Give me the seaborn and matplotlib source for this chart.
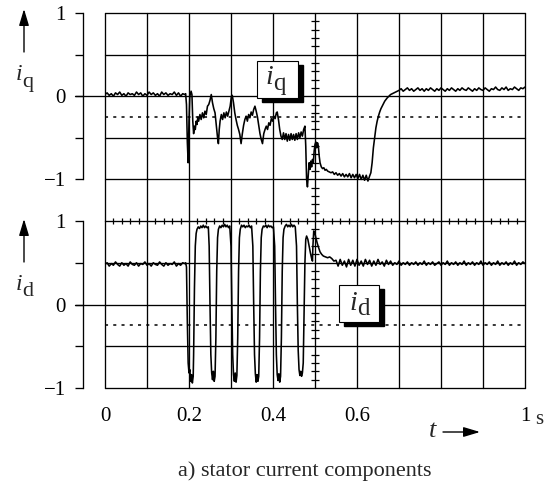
import numpy as np
import pandas as pd
import matplotlib
matplotlib.use("Agg")
import matplotlib.pyplot as plt
import seaborn as sns
from matplotlib.patches import Rectangle, FancyArrowPatch
from matplotlib.transforms import blended_transform_factory

# ---------------- data ----------------
# i_q : quiet section 0 .. 0.19 s
iq_flat_start = [0.02, 0.04, 0.01, 0.03, 0.00, 0.04, 0.02, 0.05, 0.01, 0.03,
                 0.00, 0.04, 0.02, 0.03, 0.01, 0.05, 0.02, 0.04, 0.00, 0.03,
                 0.01, 0.05, 0.02, 0.04, 0.01, 0.03, 0.00, 0.05, 0.02, 0.04,
                 0.01, 0.03, 0.02, 0.05, 0.01, 0.04, 0.00, 0.03, 0.02]
# i_q : transient section (t, value)
iq_events = [(0.192, 0.03), (0.194, -0.10), (0.196, -0.55), (0.198, -0.80), (0.200, -0.30),
             (0.202, 0.00), (0.205, 0.06), (0.207, 0.02), (0.209, -0.30), (0.211, -0.45),
             (0.213, -0.36), (0.215, -0.40), (0.217, -0.30), (0.219, -0.34), (0.221, -0.25),
             (0.223, -0.30), (0.226, -0.22), (0.229, -0.28), (0.232, -0.20), (0.235, -0.26),
             (0.238, -0.18), (0.241, -0.22), (0.244, -0.12), (0.247, -0.10), (0.250, -0.05),
             (0.253, 0.02), (0.256, -0.08), (0.259, -0.15), (0.262, -0.20), (0.265, -0.35),
             (0.268, -0.50), (0.270, -0.57), (0.272, -0.40), (0.274, -0.30), (0.277, -0.22),
             (0.280, -0.28), (0.283, -0.20), (0.286, -0.26), (0.289, -0.19), (0.292, -0.24),
             (0.295, -0.18), (0.298, -0.12), (0.301, 0.00), (0.303, 0.01), (0.306, -0.08),
             (0.309, -0.20), (0.312, -0.28), (0.315, -0.35), (0.318, -0.40), (0.321, -0.46),
             (0.324, -0.57), (0.327, -0.45), (0.330, -0.35), (0.333, -0.28), (0.336, -0.24),
             (0.339, -0.30), (0.342, -0.22), (0.345, -0.26), (0.348, -0.19), (0.351, -0.23),
             (0.354, -0.16), (0.357, -0.12), (0.360, -0.18), (0.363, -0.25), (0.366, -0.35),
             (0.369, -0.45), (0.372, -0.52), (0.375, -0.57), (0.378, -0.45), (0.381, -0.40),
             (0.384, -0.36), (0.387, -0.40), (0.390, -0.32), (0.393, -0.35), (0.396, -0.27),
             (0.399, -0.30), (0.402, -0.24), (0.405, -0.27), (0.408, -0.20), (0.410, -0.19),
             (0.413, -0.28), (0.416, -0.40), (0.419, -0.48), (0.422, -0.52), (0.425, -0.44),
             (0.428, -0.52), (0.431, -0.45), (0.434, -0.54), (0.437, -0.46), (0.440, -0.53),
             (0.443, -0.45), (0.446, -0.52), (0.449, -0.46), (0.452, -0.53), (0.455, -0.45),
             (0.458, -0.52), (0.461, -0.44), (0.464, -0.50), (0.467, -0.43), (0.470, -0.48),
             (0.473, -0.40), (0.476, -0.36), (0.478, -0.60), (0.480, -1.00), (0.482, -1.09),
             (0.484, -0.95), (0.486, -0.80), (0.488, -0.88), (0.490, -0.78), (0.492, -0.85),
             (0.494, -0.76), (0.496, -0.80), (0.498, -0.66), (0.500, -0.58), (0.502, -0.55),
             (0.504, -0.62), (0.506, -0.56), (0.508, -0.60), (0.510, -0.72), (0.512, -0.80),
             (0.515, -0.85), (0.518, -0.87), (0.521, -0.86), (0.524, -0.89), (0.527, -0.88),
             (0.530, -0.90), (0.534, -0.91), (0.538, -0.92), (0.542, -0.91), (0.546, -0.94),
             (0.550, -0.92), (0.554, -0.95), (0.558, -0.93), (0.562, -0.96), (0.566, -0.93),
             (0.570, -0.97), (0.574, -0.94), (0.578, -0.97), (0.582, -0.93), (0.586, -0.98),
             (0.590, -0.94), (0.594, -0.98), (0.598, -0.94), (0.602, -0.99), (0.606, -0.94),
             (0.610, -1.00), (0.614, -0.95), (0.618, -1.01), (0.622, -0.95), (0.626, -1.02),
             (0.630, -0.96), (0.633, -0.92), (0.636, -0.80), (0.639, -0.62), (0.642, -0.50),
             (0.645, -0.38), (0.648, -0.30), (0.651, -0.24), (0.654, -0.19), (0.657, -0.15),
             (0.660, -0.12), (0.663, -0.09), (0.666, -0.06), (0.669, -0.04), (0.672, -0.02),
             (0.676, 0.00), (0.680, 0.02), (0.684, 0.03), (0.688, 0.04), (0.692, 0.05),
             (0.696, 0.06)]
# i_q : steady section 0.70 .. 1.0 s
iq_flat_end = [0.07, 0.09, 0.06, 0.08, 0.10, 0.07, 0.09, 0.06, 0.08, 0.10,
               0.07, 0.09, 0.06, 0.09, 0.07, 0.10, 0.08, 0.06, 0.09, 0.07,
               0.10, 0.08, 0.06, 0.09, 0.07, 0.10, 0.08, 0.06, 0.09, 0.07,
               0.10, 0.08, 0.07, 0.10, 0.08, 0.06, 0.09, 0.07, 0.10, 0.08,
               0.07, 0.10, 0.08, 0.06, 0.09, 0.08, 0.11, 0.08, 0.07, 0.10,
               0.08, 0.11, 0.07, 0.09, 0.08, 0.11, 0.09, 0.07, 0.10, 0.09,
               0.11]

# i_d : quiet section 0 .. 0.19 s
id_flat_start = [0.48, 0.50, 0.46, 0.49, 0.47, 0.51, 0.48, 0.46, 0.50, 0.47,
                 0.49, 0.46, 0.51, 0.48, 0.47, 0.50, 0.46, 0.49, 0.48, 0.51,
                 0.47, 0.49, 0.46, 0.50, 0.48, 0.47, 0.51, 0.48, 0.46, 0.50,
                 0.47, 0.49, 0.48, 0.51, 0.46, 0.49, 0.47, 0.50, 0.49]
# i_d : pulse section (t, value)
id_events = [(0.192, 0.50), (0.194, 0.45), (0.196, -0.20), (0.198, -0.70), (0.200, -0.82),
             (0.202, -0.78), (0.204, -0.92), (0.206, -0.84), (0.208, -0.94), (0.210, -0.86),
             (0.211, -0.60), (0.213, 0.20), (0.215, 0.70), (0.217, 0.85), (0.219, 0.90),
             (0.222, 0.93), (0.225, 0.91), (0.228, 0.94), (0.231, 0.92), (0.234, 0.95),
             (0.237, 0.92), (0.240, 0.94), (0.243, 0.92), (0.246, 0.93),
             (0.248, 0.70), (0.250, 0.00), (0.252, -0.60), (0.254, -0.82), (0.256, -0.90),
             (0.258, -0.80), (0.260, -0.92), (0.262, -0.86), (0.264, -0.40), (0.266, 0.40),
             (0.268, 0.80), (0.270, 0.90),
             (0.273, 0.94), (0.276, 0.92), (0.279, 0.95), (0.282, 0.93), (0.285, 0.96),
             (0.288, 0.93), (0.291, 0.95), (0.294, 0.92), (0.297, 0.94),
             (0.300, 0.70), (0.302, 0.00), (0.304, -0.60), (0.306, -0.84), (0.308, -0.92),
             (0.310, -0.82), (0.312, -0.93), (0.314, -0.85), (0.316, -0.40), (0.318, 0.40),
             (0.320, 0.80), (0.322, 0.90),
             (0.325, 0.95), (0.328, 0.93), (0.331, 0.95), (0.334, 0.92), (0.337, 0.94),
             (0.340, 0.93), (0.343, 0.95), (0.346, 0.92), (0.349, 0.94),
             (0.352, 0.70), (0.354, 0.00), (0.356, -0.60), (0.358, -0.83), (0.360, -0.93),
             (0.362, -0.84), (0.364, -0.92), (0.366, -0.86), (0.368, -0.40), (0.370, 0.40),
             (0.372, 0.80), (0.374, 0.90),
             (0.377, 0.94), (0.380, 0.93), (0.383, 0.95), (0.386, 0.92), (0.389, 0.95),
             (0.392, 0.93), (0.395, 0.94), (0.398, 0.92), (0.401, 0.93),
             (0.404, 0.70), (0.406, 0.00), (0.408, -0.60), (0.410, -0.84), (0.412, -0.91),
             (0.414, -0.83), (0.416, -0.93), (0.418, -0.86), (0.420, -0.40), (0.422, 0.40),
             (0.424, 0.80), (0.426, 0.90),
             (0.429, 0.94), (0.432, 0.96), (0.435, 0.93), (0.438, 0.95), (0.441, 0.93),
             (0.444, 0.96), (0.447, 0.93), (0.450, 0.95), (0.453, 0.93),
             (0.456, 0.70), (0.458, 0.00), (0.460, -0.55), (0.462, -0.78), (0.464, -0.85),
             (0.466, -0.80), (0.468, -0.86), (0.470, -0.82), (0.472, -0.70), (0.474, -0.10),
             (0.476, 0.50), (0.478, 0.78), (0.480, 0.82),
             (0.483, 0.78), (0.486, 0.70), (0.489, 0.62), (0.492, 0.55), (0.494, 0.52),
             (0.495, 0.70), (0.497, 0.88), (0.499, 0.87), (0.502, 0.80), (0.505, 0.74),
             (0.508, 0.69), (0.512, 0.63), (0.516, 0.60), (0.520, 0.58), (0.525, 0.57),
             (0.530, 0.56), (0.535, 0.57), (0.540, 0.55), (0.545, 0.52)]
# i_d : steady section 0.55 .. 1.0 s
id_flat_end = [0.53, 0.46, 0.54, 0.47, 0.52, 0.45, 0.54, 0.47, 0.53, 0.46,
               0.54, 0.47, 0.52, 0.46, 0.54, 0.48, 0.53, 0.46, 0.52, 0.47,
               0.54, 0.48, 0.51, 0.46, 0.53, 0.48, 0.52, 0.47, 0.50, 0.48,
               0.52, 0.47, 0.50, 0.48, 0.51, 0.47, 0.50, 0.48, 0.51, 0.47,
               0.50, 0.48, 0.52, 0.47, 0.50, 0.48, 0.51, 0.47, 0.49, 0.51,
               0.47, 0.50, 0.48, 0.52, 0.47, 0.50, 0.48, 0.51, 0.47, 0.50,
               0.48, 0.52, 0.47, 0.50, 0.48, 0.51, 0.47, 0.50, 0.48, 0.52,
               0.47, 0.50, 0.48, 0.51, 0.47, 0.50, 0.48, 0.52, 0.47, 0.50,
               0.48, 0.51, 0.47, 0.50, 0.48, 0.52, 0.47, 0.50, 0.48, 0.51,
               0.49]

x_grid = [0.0, 0.1, 0.2, 0.3, 0.4, 0.5, 0.6, 0.7, 0.8, 0.9, 1.0]
x_ticklabels = ["0", "", "0.2", "", "0.4", "", "0.6", "", "", "", "1"]
y_ticks = [-1.0, -0.5, 0.0, 0.5, 1.0]
y_ticklabels = ["\u22121", "", "0", "", "1"]
q_hgrid = [1.0, 0.5, 0.0, -0.5, -1.0]
d_hgrid = [1.0, 0.5, 0.0, -0.5, -1.0]
ref_level = -0.25


def build(flat_a, t_a, events, flat_b, t_b):
    ta = np.linspace(t_a[0], t_a[1], len(flat_a))
    te = np.array([e[0] for e in events])
    ve = np.array([e[1] for e in events])
    tb = np.linspace(t_b[0], t_b[1], len(flat_b))
    return pd.DataFrame({"t": np.concatenate([ta, te, tb]),
                         "v": np.concatenate([flat_a, ve, flat_b])})


df_q = build(iq_flat_start, (0.0, 0.19), iq_events, iq_flat_end, (0.70, 1.0))
df_d = build(id_flat_start, (0.0, 0.19), id_events, id_flat_end, (0.55, 1.0))

# ---------------- style ----------------
sns.set_theme(style="white")
plt.rcParams["font.family"] = ["Liberation Serif", "DejaVu Serif"]

W, H = 551, 483
fig = plt.figure(figsize=(W / 100, H / 100), dpi=100)
fig.patch.set_facecolor("white")


def fx(px):
    return px / W


def fy(py):
    return 1 - py / H


L, R, T, MID, B = 105, 525, 13, 221, 388
ax_q = fig.add_axes([fx(L), fy(MID), fx(R) - fx(L), fy(T) - fy(MID)])
ax_d = fig.add_axes([fx(L), fy(B), fx(R) - fx(L), fy(MID) - fy(B)])

GRID_LW = 0.95
FS = 15

for ax, df, ylim, hgrid in [(ax_q, df_q, (-1.5, 1.0), q_hgrid),
                            (ax_d, df_d, (-1.0, 1.0), d_hgrid)]:
    ax.set_facecolor("white")
    ax.set_xlim(0, 1)
    ax.set_ylim(*ylim)
    for s in ["top", "right", "bottom"]:
        ax.spines[s].set_visible(False)
    sp = ax.spines["left"]
    sp.set_visible(True)
    sp.set_position(("outward", 15.8))
    sp.set_bounds(-1, 1)
    sp.set_color("black")
    sp.set_linewidth(GRID_LW)
    ax.set_yticks(y_ticks)
    ax.set_yticklabels(y_ticklabels)
    ax.tick_params(axis="y", left=True, direction="out", length=5.8, width=GRID_LW,
                   color="black", labelsize=FS, pad=6.5, labelcolor="black")
    for xv in x_grid:
        ax.axvline(xv, color="black", lw=GRID_LW, clip_on=False, zorder=1)
    for yv in hgrid:
        ax.axhline(yv, color="black", lw=GRID_LW, clip_on=False, zorder=1)
    tr = blended_transform_factory(ax.transAxes, ax.transData)
    ax.plot([-30 / 420, 0], [0, 0], color="black", lw=GRID_LW, transform=tr, clip_on=False)
    ax.axhline(ref_level, color="black", lw=1.1, ls=(0, (2, 3.4)), zorder=1)
    sns.lineplot(data=df, x="t", y="v", ax=ax, color="black", lw=1.15,
                 estimator=None, sort=False, zorder=3)
    ax.set_xlabel("")
    ax.set_ylabel("")

ax_q.set_xticks([])
ax_d.set_xticks(x_grid)
ax_d.set_xticklabels(x_ticklabels)
ax_d.tick_params(axis="x", bottom=True, length=0, labelsize=FS, pad=14, labelcolor="black")

# minor ticks on centre line and on i_d = 1 line
q_minor = [v / 10 for v in range(-14, 10) if v % 5 != 0]
d_minor = [v / 10 for v in range(-9, 10) if v % 5 != 0]
ax_q.plot([0.5] * len(q_minor), q_minor, ls="none", marker="_", ms=5.2, mew=0.9,
          color="black", clip_on=False, zorder=2)
ax_d.plot([0.5] * len(d_minor), d_minor, ls="none", marker="_", ms=5.2, mew=0.9,
          color="black", clip_on=False, zorder=2)
t_minor = [v / 50 for v in range(1, 50) if v % 5 != 0]
ax_d.plot(t_minor, [1.0] * len(t_minor), ls="none", marker="|", ms=4.5, mew=0.9,
          color="black", clip_on=False, zorder=2)


# ---------------- annotations ----------------
def sub_label(x_split, base_main, base_sub, sub, fs_main, fs_sub):
    fig.text(fx(x_split), fy(base_main), "i", ha="right", va="baseline",
             fontsize=fs_main, fontstyle="italic", zorder=8)
    fig.text(fx(x_split), fy(base_sub), sub, ha="left", va="baseline",
             fontsize=fs_sub, zorder=8)


def shadow_box(x0, y0, x1, y1):
    fig.patches.append(Rectangle((fx(x0 + 5), fy(y1 + 4)), fx(x1) - fx(x0), fy(y0) - fy(y1),
                                 transform=fig.transFigure, facecolor="black",
                                 edgecolor="black", zorder=5))
    fig.patches.append(Rectangle((fx(x0), fy(y1)), fx(x1) - fx(x0), fy(y0) - fy(y1),
                                 transform=fig.transFigure, facecolor="white",
                                 edgecolor="black", lw=0.8, zorder=6))


shadow_box(257, 61, 298, 98)
sub_label(273, 84, 90, "q", 20, 18)
shadow_box(339, 285, 379, 322)
sub_label(357, 310, 315, "d", 20, 18)

sub_label(22, 80, 87, "q", 17, 16)
sub_label(22, 290, 296, "d", 17, 16)

arrow_kw = dict(arrowstyle="-|>,head_length=1.0,head_width=0.3", lw=1.0, color="black",
                shrinkA=0, shrinkB=0, mutation_scale=10)
fig.add_artist(FancyArrowPatch((fx(24), fy(52)), (fx(24), fy(9)),
               transform=fig.transFigure, **arrow_kw))
fig.add_artist(FancyArrowPatch((fx(24), fy(262)), (fx(24), fy(219)),
               transform=fig.transFigure, **arrow_kw))
fig.add_artist(FancyArrowPatch((fx(443), fy(432)), (fx(480), fy(432)),
               transform=fig.transFigure, **arrow_kw))
fig.text(fx(433), fy(437), "t", ha="center", va="baseline", fontsize=19, fontstyle="italic")
fig.text(fx(535), fy(424), "s", ha="left", va="baseline", fontsize=FS)
fig.text(fx(305), fy(471), "a) stator current components", ha="center", va="center",
         fontsize=16)

fig.savefig("out.png", dpi=100, facecolor="white")
